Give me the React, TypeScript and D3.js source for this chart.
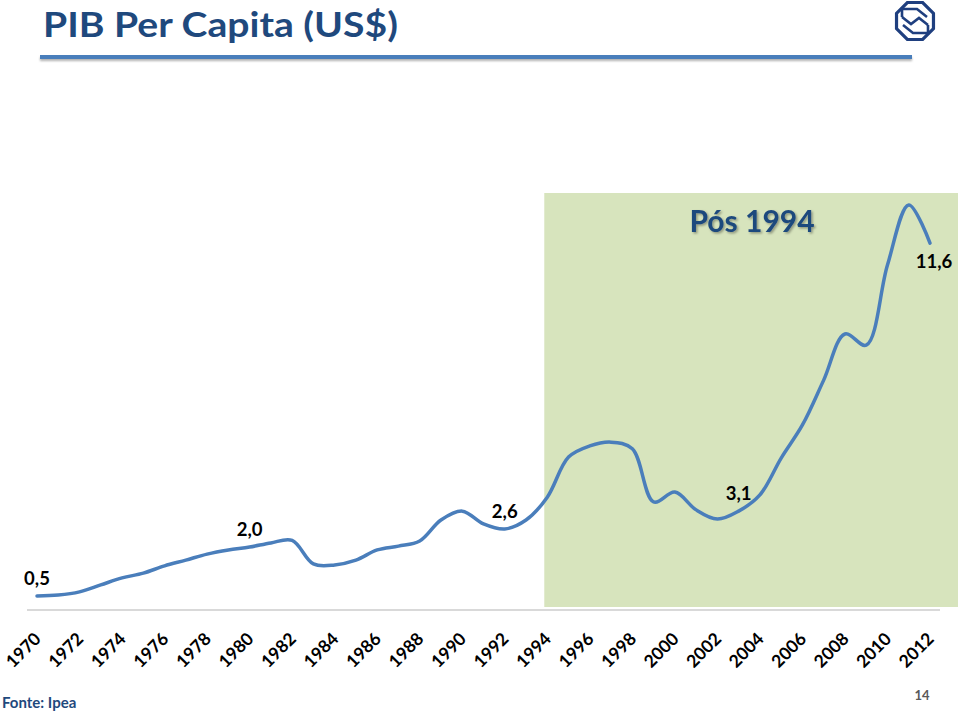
import React from 'react';
import * as d3 from 'd3';

const years = [
  1970, 1971, 1972, 1973, 1974, 1975, 1976, 1977, 1978, 1979,
  1980, 1981, 1982, 1983, 1984, 1985, 1986, 1987, 1988, 1989,
  1990, 1991, 1992, 1993, 1994, 1995, 1996, 1997, 1998, 1999,
  2000, 2001, 2002, 2003, 2004, 2005, 2006, 2007, 2008, 2009,
  2010, 2011, 2012,
];
const gdpPerCapita = [
  0.47, 0.5, 0.6, 0.82, 1.04, 1.19, 1.42, 1.6, 1.79, 1.92,
  2.01, 2.14, 2.22, 1.48, 1.45, 1.6, 1.92, 2.04, 2.2, 2.86,
  3.14, 2.74, 2.58, 2.86, 3.58, 4.84, 5.19, 5.31, 5.1, 3.43,
  3.74, 3.18, 2.89, 3.14, 3.65, 4.81, 5.85, 7.26, 8.71, 8.36,
  10.88, 12.77, 11.57,
];
const tickYears = [
  1970, 1972, 1974, 1976, 1978, 1980, 1982, 1984, 1986, 1988, 1990,
  1992, 1994, 1996, 1998, 2000, 2002, 2004, 2006, 2008, 2010, 2012,
];
const labelYears = [1970, 1980, 1992, 2003, 2012];
const labelTexts = ['0,5', '2,0', '2,6', '3,1', '11,6'];
const labelBelow = [false, false, false, false, true];
const highlightStart = 1994;
const highlightTitle = 'Pós 1994';
const title = 'PIB Per Capita (US$)';
const source = 'Fonte: Ipea';
const pageNumber = '14';

const W = 960;
const H = 716;
const FONT = 'Lato, "Open Sans", sans-serif';

export default function App() {
  const x = d3.scaleLinear().domain([1970, 2012]).range([37, 930]);
  const y = d3.scaleLinear().domain([0, 13]).range([611, 197.6]);
  const data = years.map((yr, i) => ({ yr, v: gdpPerCapita[i] }));
  const line = d3
    .line<{ yr: number; v: number }>()
    .x((d) => x(d.yr))
    .y((d) => y(d.v))
    .curve(d3.curveCatmullRom.alpha(0.5));

  const hx0 = x(highlightStart) - 3;

  // logo octagon
  const cx = 915;
  const cy = 21;
  const r = 20;
  const oct = d3.range(8).map((k) => {
    const a = (Math.PI / 8) + (k * Math.PI) / 4;
    return [cx + r * Math.cos(a), cy + r * Math.sin(a)];
  });

  return (
    <svg
      width={W}
      height={H}
      style={{ position: 'absolute', left: 0, top: 0, background: '#fff' }}
      fontFamily={FONT}
    >
      <defs>
        <filter id="sh" x="-10%" y="-10%" width="130%" height="150%">
          <feDropShadow dx="1.5" dy="1.5" stdDeviation="1" floodColor="#000" floodOpacity="0.35" />
        </filter>
        <filter id="sh2" x="-5%" y="-100%" width="110%" height="400%">
          <feDropShadow dx="0" dy="2" stdDeviation="1.2" floodColor="#000" floodOpacity="0.3" />
        </filter>
      </defs>

      {/* Title */}
      <text
        x={43}
        y={37}
        fontSize={35}
        fontWeight={700}
        fill="#1f497d"
        textLength={355}
        lengthAdjust="spacingAndGlyphs"
      >
        {title}
      </text>
      <rect x={40} y={55} width={872} height={4} fill="#4a7ebb" filter="url(#sh2)" />

      {/* Logo */}
      <g fill="none" stroke="#1f3f7f" strokeWidth={3.2} strokeLinejoin="miter">
        <polygon points={oct.map((p) => p.join(',')).join(' ')} />
        <path d={`M${cx - 13},${cy - 4} L${cx - 13},${cy - 12} L${cx + 2},${cy - 12} L${cx + 12},${cy - 4}`} strokeWidth={2.6} />
        <path d={`M${cx - 12},${cy + 4} L${cx - 2},${cy + 12} L${cx + 13},${cy + 12} L${cx + 13},${cy + 4}`} strokeWidth={2.6} />
        <path d={`M${cx - 13},${cy - 4} L${cx - 4},${cy + 3} L${cx + 4},${cy - 3} L${cx + 13},${cy + 4}`} strokeWidth={2.6} />
      </g>

      {/* Highlight area */}
      <rect x={hx0} y={193} width={958 - hx0} height={414} fill="#d7e4bd" />
      <text
        x={752}
        y={232}
        textAnchor="middle"
        fontSize={30}
        fontWeight={700}
        fill="#1f497d"
        filter="url(#sh)"
      >
        {highlightTitle}
      </text>

      {/* Axis line */}
      <line x1={27} x2={940} y1={610} y2={610} stroke="#d9d9d9" strokeWidth={2} />

      {/* Tick labels */}
      {tickYears.map((t) => (
        <text
          key={t}
          transform={`translate(${x(t) + 5},${640}) rotate(-45)`}
          textAnchor="end"
          fontSize={17.5}
          fontWeight={700}
          fill="#000"
        >
          {t}
        </text>
      ))}

      {/* Series line */}
      <path d={line(data) ?? ''} fill="none" stroke="#4a7ebb" strokeWidth={3.5} strokeLinecap="round" />

      {/* Data labels */}
      {labelYears.map((yr, i) => {
        const v = gdpPerCapita[years.indexOf(yr)];
        const px = x(yr) + (labelBelow[i] ? 4 : 0);
        const py = labelBelow[i] ? y(v) + 25 : y(v) - 11;
        return (
          <text key={yr} x={px} y={py} textAnchor="middle" fontSize={18.5} fontWeight={700} fill="#000">
            {labelTexts[i]}
          </text>
        );
      })}

      {/* Footer */}
      <text x={2} y={708} fontSize={15} fontWeight={700} fill="#1f497d">
        {source}
      </text>
      <text x={922} y={700} textAnchor="middle" fontSize={13} fontWeight={700} fill="#595959">
        {pageNumber}
      </text>
    </svg>
  );
}
